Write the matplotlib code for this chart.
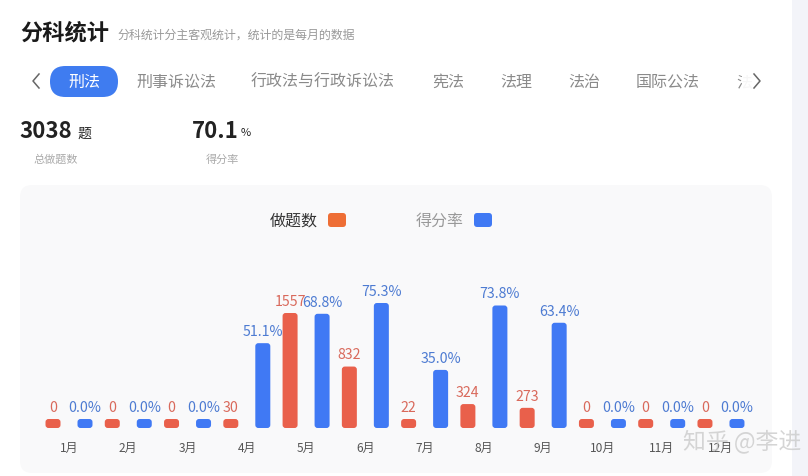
import numpy as np
import matplotlib
matplotlib.use("Agg")
import matplotlib.pyplot as plt
from matplotlib.patches import FancyBboxPatch, Rectangle
from matplotlib.lines import Line2D

plt.rcParams['font.family'] = ['Noto Sans CJK SC', 'DejaVu Sans']

# data
months = ['1月', '2月', '3月', '4月', '5月', '6月', '7月', '8月', '9月', '10月', '11月', '12月']
counts = [0, 0, 0, 30, 1557, 832, 22, 324, 273, 0, 0, 0]
rates = [0.0, 0.0, 0.0, 51.1, 68.8, 75.3, 35.0, 73.8, 63.4, 0.0, 0.0, 0.0]
tabs = ['刑事诉讼法', '行政法与行政诉讼法', '宪法', '法理', '法治', '国际公法', '法']
tab_x = [176, 323, 448, 516, 584, 668, 744]
total_count = '3038'
total_rate = '70.1'

W, H = 808, 476
RED = '#e9604b'
BLUE = '#4079f4'
RED_TXT = '#d9695b'
BLUE_TXT = '#4d7bd2'

fig = plt.figure(figsize=(W / 100, H / 100), dpi=100)
fig.patch.set_facecolor('white')


def px(x, y):
    return x / W, 1 - y / H


def ftext(x, y, s, **kw):
    # CJK glyphs sit a little high with va=center, nudge down
    kw.setdefault('va', 'center')
    fig.text(*px(x, y + 1.5), s, **kw)


# right strip and chart panel
fig.add_artist(Rectangle(px(792, 476), 16 / W, 1, transform=fig.transFigure,
                         facecolor='#f3f4f9', edgecolor='none', zorder=0))
fig.add_artist(FancyBboxPatch(px(20, 473), 752 / W, 288 / H, transform=fig.transFigure,
                              boxstyle='round,pad=0,rounding_size=0.015',
                              mutation_aspect=W / H,
                              facecolor='#f9f9fa', edgecolor='none', zorder=0))

# header
ftext(20, 32, '分科统计', fontsize=16, fontweight='bold', color='#1a1a1a')
ftext(118, 34, '分科统计分主客观统计，统计的是每月的数据', fontsize=8.6, color='#999999')

# tabs
fig.add_artist(FancyBboxPatch(px(50, 97), 68 / W, 31 / H, transform=fig.transFigure,
                              boxstyle='round,pad=0,rounding_size=0.019',
                              mutation_aspect=W / H,
                              facecolor='#3f7cf0', edgecolor='none', zorder=1))
ftext(84, 81, '刑法', fontsize=11.5, color='white', ha='center', zorder=2)
for t, x in zip(tabs, tab_x):
    ftext(x, 81, t, fontsize=11.5, color='#8a8a8a', ha='center', zorder=1)
# fade out the clipped last tab
fig.add_artist(Rectangle(px(742, 100), 48 / W, 40 / H, transform=fig.transFigure,
                         facecolor='white', edgecolor='none', alpha=0.93, zorder=3))
for xs in ([39, 33, 39], [754, 760, 754]):
    fx = [x / W for x in xs]
    fy = [1 - y / H for y in (74, 81, 88)]
    fig.add_artist(Line2D(fx, fy, transform=fig.transFigure, color='#666666', lw=1.1, zorder=4))

# summary numbers
ftext(19, 130, total_count, fontsize=16, fontweight='bold', color='#222222')
ftext(77, 132, '题', fontsize=10, color='#222222')
ftext(56, 158, '总做题数', fontsize=8, color='#aaaaaa', ha='center')
ftext(192, 130, total_rate, fontsize=16, fontweight='bold', color='#222222')
ftext(241, 132, '%', fontsize=8, color='#222222')
ftext(222, 158, '得分率', fontsize=8, color='#aaaaaa', ha='center')

# legend
ftext(294, 220, '做题数', fontsize=11.5, color='#333333', ha='center')
fig.add_artist(FancyBboxPatch(px(328, 227), 18 / W, 14 / H, transform=fig.transFigure,
                              boxstyle='round,pad=0,rounding_size=0.004', mutation_aspect=W / H,
                              facecolor='#ee6e35', edgecolor='none'))
ftext(440, 220, '得分率', fontsize=11.5, color='#999999', ha='center')
fig.add_artist(FancyBboxPatch(px(474, 227), 18 / W, 14 / H, transform=fig.transFigure,
                              boxstyle='round,pad=0,rounding_size=0.004', mutation_aspect=W / H,
                              facecolor=BLUE, edgecolor='none'))

# chart axes: baseline at y=428px, months every ~59.3px starting at x=69
ax_left, ax_right, ax_bottom, ax_top = 20, 772, 428, 185
step = 59.27
ax = fig.add_axes([ax_left / W, 1 - ax_bottom / H, (ax_right - ax_left) / W, (ax_bottom - ax_top) / H])
ax2 = ax.twinx()
x = np.arange(len(months))
xmin = (ax_left - 69) / step
xmax = (ax_right - 69) / step
h_px = ax_bottom - ax_top
ylim_c = 1557 / 115 * h_px
ylim_r = 75.3 / 125 * h_px
for a, top in ((ax, ylim_c), (ax2, ylim_r)):
    a.set_xlim(xmin, xmax)
    a.set_ylim(0, top)
    a.patch.set_visible(False)
    for s in a.spines.values():
        s.set_visible(False)
    a.set_yticks([])

off = 16 / step
bw = 15 / step
min_px = 9
xu_per_px = (xmax - xmin) / (ax_right - ax_left)


def rounded_bars(a, xs, vals, ylim, color, txtcolor, labels):
    yu_per_px = ylim / h_px
    heights = np.maximum(np.array(vals, float), min_px * yu_per_px)
    bars = a.bar(xs, heights, width=bw, color=color)
    for b, lab in zip(bars, labels):
        bx, by = b.get_x(), b.get_y()
        bwid, bh = b.get_width(), b.get_height()
        b.remove()
        a.add_patch(FancyBboxPatch((bx, by), bwid, bh,
                                   boxstyle='round,pad=0,rounding_size=%f' % (3 * xu_per_px),
                                   mutation_aspect=yu_per_px / xu_per_px,
                                   facecolor=color, edgecolor='none'))
        a.annotate(lab, (bx + bwid / 2, bh), xytext=(0, 3), textcoords='offset points',
                   ha='center', va='bottom', fontsize=10.2, color=txtcolor)


rounded_bars(ax, x - off, counts, ylim_c, RED, RED_TXT, [str(v) for v in counts])
rounded_bars(ax2, x + off, rates, ylim_r, BLUE, BLUE_TXT, ['%.1f%%' % v for v in rates])

ax.set_xticks(x)
ax.set_xticklabels(months, fontsize=8.6, color='#555555')
ax.tick_params(axis='x', length=0, pad=10)
ax2.tick_params(axis='x', length=0)

# watermark
ftext(683, 440, '知乎 @李进', fontsize=16.5, color='#c8c8c8', alpha=0.75, zorder=10)

fig.savefig('out.png', dpi=100)
